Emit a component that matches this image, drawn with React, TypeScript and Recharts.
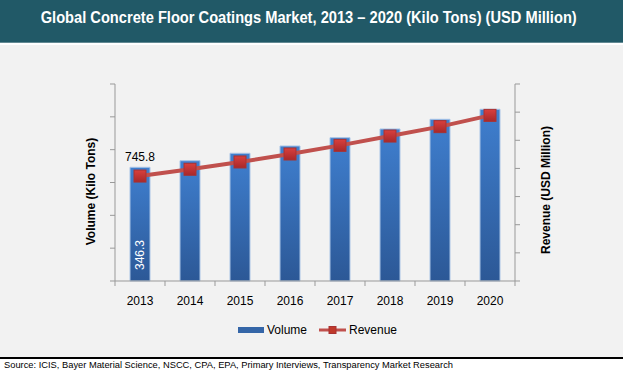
import React from 'react';
import { ComposedChart, Bar, Line, XAxis, YAxis, Legend, LabelList } from 'recharts';

const years = ['2013', '2014', '2015', '2016', '2017', '2018', '2019', '2020'];
const volume = [346.3, 366.4, 389.0, 411.2, 436.5, 463.0, 492.5, 523.0];
const revenue = [745.8, 794.0, 846.0, 902.5, 964.0, 1030.0, 1097.0, 1177.0];
const volumeLabels = ['346.3', '', '', '', '', '', '', ''];
const revenueLabels = ['745.8', '', '', '', '', '', '', ''];
const volumeTicks = [0, 100, 200, 300, 400, 500, 600];
const revenueTicks = [0, 200, 400, 600, 800, 1000, 1200, 1400];

const TITLE = 'Global Concrete Floor Coatings Market, 2013 \u2013 2020 (Kilo Tons) (USD Million)';
const SOURCE = 'Source: ICIS, Bayer Material Science, NSCC, CPA, EPA, Primary Interviews, Transparency Market Research';
const VOL_TITLE = 'Volume (Kilo Tons)';
const REV_TITLE = 'Revenue (USD Million)';
const VOL_NAME = 'Volume';
const REV_NAME = 'Revenue';
const legendOrder = ['volume', 'revenue'];

const data = years.map((year, i) => ({
  year,
  volume: volume[i],
  revenue: revenue[i],
  volLabel: volumeLabels[i],
  revLabel: revenueLabels[i],
}));

const FONT = '"Liberation Sans", Arial, sans-serif';
const AXIS = '#999999';
const TEAL = '#215967';
const BG = '#f2f2f2';
const LINE = '#c0504d';

const TITLE_SCALE = 0.907;

const emptyTick = () => <g />;

const XTick = (props: any) => {
  const { x, y, payload, index } = props;
  const half = 25;
  return (
    <g>
      <line x1={x - half} y1={y} x2={x - half} y2={y + 5} stroke={AXIS} />
      {index === years.length - 1 && <line x1={x + half} y1={y} x2={x + half} y2={y + 5} stroke={AXIS} />}
      <text x={x} y={y + 24} textAnchor="middle" fontFamily={FONT} fontSize={12} fill="#000">
        {payload.value}
      </text>
    </g>
  );
};

const SquareDot = (props: any) => {
  const { cx, cy } = props;
  if (cx == null || cy == null) return null;
  return <rect x={cx - 6} y={cy - 6} width={12} height={12} fill="url(#dotGrad)" stroke="#a83232" strokeWidth={1} />;
};

const getBox = (props: any) => {
  const vb = props.viewBox || {};
  return {
    x: vb.x ?? props.x,
    y: vb.y ?? props.y,
    width: vb.width ?? props.width ?? 0,
    height: vb.height ?? props.height ?? 0,
  };
};

const BarLabel = (props: any) => {
  const { value } = props;
  if (!value) return null;
  const b = getBox(props);
  const tx = b.x + b.width / 2 + 4.3;
  const ty = b.y + b.height - 26;
  return (
    <text x={tx} y={ty} transform={`rotate(-90 ${tx} ${ty})`} textAnchor="middle" fontFamily={FONT} fontSize={12} fill="#fff">
      {value}
    </text>
  );
};

const LineLabel = (props: any) => {
  const { value } = props;
  if (!value) return null;
  const b = getBox(props);
  return (
    <text x={b.x} y={b.y - 15} textAnchor="middle" fontFamily={FONT} fontSize={12} fill="#000">
      {value}
    </text>
  );
};

const VolTitle = (props: any) => {
  const vb = props.viewBox || { x: 75, y: 84, width: 40, height: 197 };
  const tx = vb.x + 19.5;
  const ty = vb.y + vb.height / 2 + 9;
  return (
    <text x={tx} y={ty} transform={`rotate(-90 ${tx} ${ty})`} textAnchor="middle" fontFamily={FONT} fontWeight="bold" fontSize={12} fill="#000">
      {VOL_TITLE}
    </text>
  );
};

const RevTitle = (props: any) => {
  const vb = props.viewBox || { x: 515, y: 84, width: 40, height: 197 };
  const tx = vb.x + 35;
  const ty = vb.y + vb.height / 2 + 7.5;
  return (
    <text x={tx} y={ty} transform={`rotate(-90 ${tx} ${ty})`} textAnchor="middle" fontFamily={FONT} fontWeight="bold" fontSize={12} fill="#000">
      {REV_TITLE}
    </text>
  );
};

const renderLegend = (props: any) => {
  const payload = [...(props.payload || [])].sort(
    (a: any, b: any) => legendOrder.indexOf(a.dataKey) - legendOrder.indexOf(b.dataKey)
  );
  return (
    <div
      style={{
        display: 'flex',
        justifyContent: 'center',
        alignItems: 'center',
        height: 20,
        paddingLeft: 12,
        fontFamily: FONT,
        fontSize: 12,
        color: '#000',
      }}
    >
      {payload.map((entry: any, i: number) => {
        const isBar = entry.dataKey === 'volume';
        return (
          <div key={i} style={{ display: 'flex', alignItems: 'center', marginRight: i === 0 ? 12 : 0 }}>
            {isBar ? (
              <svg width={26} height={8} style={{ display: 'block' }}>
                <rect x={0} y={1} width={26} height={6} fill="#3566a8" />
              </svg>
            ) : (
              <svg width={27} height={10} style={{ display: 'block' }}>
                <line x1={0} y1={5} x2={27} y2={5} stroke={LINE} strokeWidth={3} />
                <rect x={10} y={1.5} width={7} height={7} fill="#c0392b" stroke="#a83232" />
              </svg>
            )}
            <span style={{ marginLeft: 3, lineHeight: '20px' }}>{isBar ? VOL_NAME : REV_NAME}</span>
          </div>
        );
      })}
    </div>
  );
};

export default function App() {
  return (
    <div style={{ position: 'absolute', left: 0, top: 0, width: 623, height: 373, background: '#fff', overflow: 'hidden' }}>
      <div style={{ position: 'absolute', left: 0, top: 45, width: 623, height: 311.7, background: BG }} />
      <div style={{ position: 'absolute', left: 0, top: 356.7, width: 623, height: 2, background: '#000' }} />
      <svg width={623} height={45} style={{ position: 'absolute', left: 0, top: 0 }}>
        <rect x={0} y={0} width={623} height={42.7} fill={TEAL} />
        <g transform={`translate(40.7 23.3) scale(${TITLE_SCALE} 1)`}>
          <text
            x={0}
            y={0}
            textLength={536 / TITLE_SCALE}
            lengthAdjust="spacingAndGlyphs"
            fontFamily={FONT}
            fontWeight="bold"
            fontSize={16}
            fill="#fff"
          >
            {TITLE}
          </text>
        </g>
      </svg>
      <svg width={623} height={14} style={{ position: 'absolute', left: 0, top: 359 }}>
        <text x={4} y={8.7} textLength={449} lengthAdjust="spacingAndGlyphs" fontFamily={FONT} fontSize={8.5} fill="#000">
          {SOURCE}
        </text>
      </svg>
      <div style={{ position: 'absolute', left: 0, top: 0 }}>
        <ComposedChart width={623} height={373} data={data} margin={{ top: 84, right: 68, bottom: 62, left: 75 }}>
          <defs>
            <linearGradient id="barGrad" x1="0" y1="0" x2="0" y2="1">
              <stop offset="0%" stopColor="#3f7fcf" />
              <stop offset="100%" stopColor="#2c5896" />
            </linearGradient>
            <linearGradient id="dotGrad" x1="0" y1="0" x2="0" y2="1">
              <stop offset="0%" stopColor="#d9403e" />
              <stop offset="100%" stopColor="#a8282a" />
            </linearGradient>
          </defs>
          <XAxis
            dataKey="year"
            height={30}
            interval={0}
            tickLine={false}
            tickSize={0}
            tickMargin={0}
            axisLine={{ stroke: AXIS }}
            tick={<XTick />}
          />
          <YAxis
            yAxisId="vol"
            width={40}
            domain={[0, 600]}
            ticks={volumeTicks}
            interval={0}
            tick={emptyTick}
            tickSize={5}
            tickLine={{ stroke: AXIS }}
            axisLine={{ stroke: AXIS }}
            label={VolTitle}
          />
          <YAxis
            yAxisId="rev"
            orientation="right"
            width={40}
            domain={[0, 1400]}
            ticks={revenueTicks}
            interval={0}
            tick={emptyTick}
            tickSize={5}
            tickLine={{ stroke: AXIS }}
            axisLine={{ stroke: AXIS }}
            label={RevTitle}
          />
          <Legend
            verticalAlign="middle"
            align="center"
            layout="horizontal"
            wrapperStyle={{ top: 320, left: 0, width: 623, height: 20 }}
            content={renderLegend}
          />
          <Bar
            yAxisId="vol"
            dataKey="volume"
            name={VOL_NAME}
            barSize={20}
            fill="url(#barGrad)"
            stroke="#a9c4e6"
            strokeWidth={1}
            isAnimationActive={false}
          >
            <LabelList dataKey="volLabel" content={BarLabel} />
          </Bar>
          <Line
            yAxisId="rev"
            dataKey="revenue"
            name={REV_NAME}
            stroke={LINE}
            strokeWidth={4}
            dot={<SquareDot />}
            activeDot={false}
            isAnimationActive={false}
          >
            <LabelList dataKey="revLabel" content={LineLabel} />
          </Line>
        </ComposedChart>
      </div>
    </div>
  );
}
